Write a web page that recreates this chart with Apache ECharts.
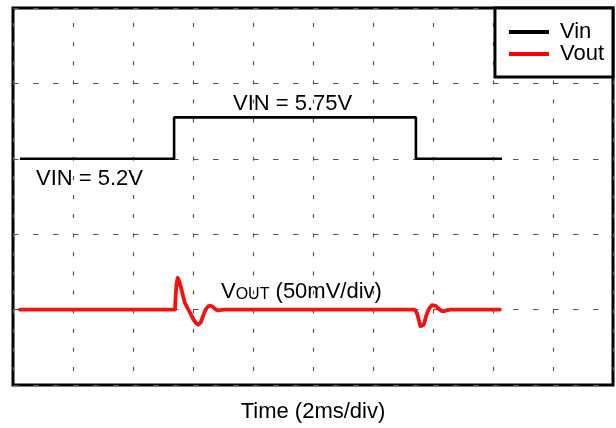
<!DOCTYPE html>
<html>
<head>
<meta charset="utf-8">
<script src="https://cdn.jsdelivr.net/npm/echarts@6/dist/echarts.min.js"></script>
<style>
  html, body { margin: 0; padding: 0; background: #fff; }
  #chart { width: 616px; height: 428px; }
</style>
</head>
<body>
<div id="chart"></div>
<script>
var FONT = '"Liberation Sans", Arial, sans-serif';

// Vin trace: time in ms (2 ms/div), level in V (1 V/div)
var vinTime  = [0.23, 5.37, 5.37, 13.43, 13.43, 16.3];
var vinVolts = [5.2,  5.2,  5.75, 5.75,  5.2,   5.2];

// Vout trace: time in ms, deviation in mV (50 mV/div)
var voutTime = [0.23, 5.40, 5.42, 5.45, 5.49, 5.54, 5.62, 5.72, 5.82, 5.90, 6.00, 6.10, 6.18, 6.26, 6.34, 6.42,
                6.50, 6.57, 6.65, 6.74, 6.84, 6.95, 7.05,
                13.38, 13.46, 13.53, 13.58, 13.63, 13.69, 13.76, 13.83, 13.90, 13.97, 14.02, 14.10, 14.20,
                14.30, 14.38, 14.48, 14.58, 16.23];
var voutMv   = [0, 0, 8, 17, 21, 19, 13, 5, 1, -2, -6, -9, -10, -8.5, -4, 0,
                2, 2.6, 2, 0.3, -0.6, -0.2, 0,
                0, -2, -7, -11, -12, -10, -5, -1, 1.5, 3, 3.3, 2.3, 0.3,
                -1, -1, -0.3, 0, 0];

var seriesNames = ['Vin', 'Vout'];

var dom = document.getElementById('chart');
var myChart = echarts.init(dom, null, { renderer: 'canvas' });

var vinData = vinTime.map(function (t, i) { return [t, vinVolts[i]]; });
var voutData = voutTime.map(function (t, i) { return [t, voutMv[i]]; });

var option = {
  backgroundColor: '#fff',
  animation: false,
  textStyle: { fontFamily: FONT },
  grid: {
    left: 13, top: 8, width: 600, height: 382,
    show: true,
    borderColor: '#000',
    borderWidth: 3
  },
  legend: {
    data: seriesNames,
    orient: 'vertical',
    right: 3,
    top: 8,
    icon: 'rect',
    itemWidth: 40,
    itemHeight: 4,
    itemGap: 0,
    padding: [13, 9, 12, 14],
    backgroundColor: '#fff',
    borderColor: '#000',
    borderWidth: 3,
    borderRadius: 0,
    textStyle: { fontSize: 22, color: '#000', fontFamily: FONT, padding: [0, 0, 0, 6] }
  },
  xAxis: {
    type: 'value',
    min: 0, max: 20, interval: 2,
    axisLine: { show: false },
    axisTick: { show: false },
    axisLabel: { show: false },
    splitLine: {
      show: true,
      lineStyle: { color: '#555', width: 1.2, type: [4, 15.1], dashOffset: 4 }
    },
    name: 'Time (2ms/div)',
    nameLocation: 'middle',
    nameGap: 16,
    nameTextStyle: { fontSize: 22, color: '#000', fontFamily: FONT }
  },
  yAxis: [
    {
      // Vin scale, 1 V/div, 5.2 V on the third division
      type: 'value', min: 2.2, max: 7.2,
      show: false
    },
    {
      // Vout scale, 50 mV/div
      type: 'value', min: -50, max: 200, interval: 50,
      position: 'left',
      axisLine: { show: false },
      axisTick: { show: false },
      axisLabel: { show: false },
      splitLine: {
        show: true,
        lineStyle: { color: '#555', width: 1.2, type: [5.5, 14.5], dashOffset: 0 }
      }
    }
  ],
  series: [
    {
      name: 'Vin', type: 'line', yAxisIndex: 0,
      data: vinData,
      symbol: 'none',
      color: '#000',
      lineStyle: { color: '#000', width: 2.6 },
      z: 3
    },
    {
      name: 'Vout', type: 'line', yAxisIndex: 1,
      data: voutData,
      symbol: 'none',
      color: '#ff0000',
      lineStyle: { color: '#f21212', width: 3.8, join: 'round', cap: 'round' },
      z: 3
    }
  ],
  graphic: [
    {
      type: 'text', x: 233, y: 104, z: 10,
      style: { text: 'VIN = 5.75V', fill: '#000', fontSize: 22, fontFamily: FONT, verticalAlign: 'middle' }
    },
    {
      type: 'text', x: 36, y: 179, z: 10,
      style: { text: 'VIN = 5.2V', fill: '#000', fontSize: 22, fontFamily: FONT, verticalAlign: 'middle' }
    },
    {
      type: 'text', x: 221, y: 292, z: 10,
      style: {
        text: '{v|V}{s|OUT}{v| (50mV/div)}',
        verticalAlign: 'middle',
        rich: {
          v: { fontSize: 22, lineHeight: 22, fill: '#000', fontFamily: FONT },
          s: { fontSize: 16, lineHeight: 13, fill: '#000', fontFamily: FONT, verticalAlign: 'bottom' }
        }
      }
    }
  ]
};

if (option && typeof option === 'object') {
  myChart.setOption(option);
}

window.onresize = function () {
  myChart.resize();
};
</script>
</body>
</html>
